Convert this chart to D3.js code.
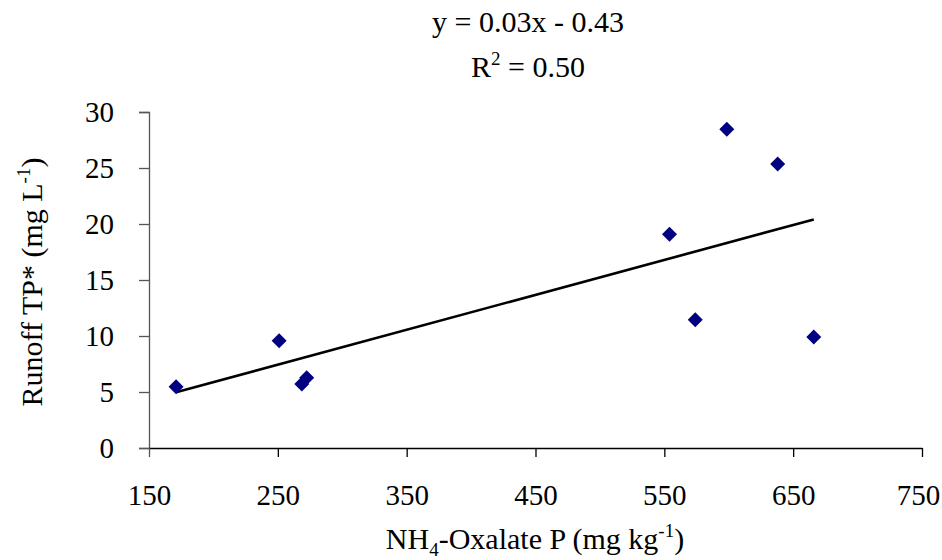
<!DOCTYPE html>
<html>
<head>
<meta charset="utf-8">
<script src="https://cdn.jsdelivr.net/npm/d3@7"></script>
</head>
<body style="margin:0">
<svg id="chart" width="942" height="560" font-family="Times New Roman"></svg>
<script>
// ---- data ----
const oxalateP = [171, 251, 268.6, 272.4, 554, 574, 598.5, 638, 666];
const runoffTP = [5.47, 9.58, 5.71, 6.28, 19.08, 11.46, 28.46, 25.36, 9.91];
const xTicks = [150, 250, 350, 450, 550, 650, 750];
const yTicks = [0, 5, 10, 15, 20, 25, 30];
const equationText = "y = 0.03x - 0.43";
const r2Text = "0.50";

const svg = d3.select("#chart");
const fsTick = 29;
const fsTitle = 30;
const fsSup = 19;

function serif(sel, size) {
  return sel.attr("font-family", "Times New Roman")
    .style("font-family", '"Times New Roman"')
    .attr("font-size", size).attr("fill", "#000");
}

const x = d3.scaleLinear().domain([150, 750]).range([149, 922]);
const y = d3.scaleLinear().domain([0, 30]).range([448, 112]);

// y axis
const yAxis = svg.append("g")
  .attr("transform", `translate(${x(150)},0)`)
  .call(d3.axisLeft(y).tickValues(yTicks).tickSize(10).tickPadding(25).tickFormat(d3.format("d")));
yAxis.attr("font-family", "Times New Roman").attr("font-size", null);
yAxis.select(".domain").attr("stroke", "#555").attr("stroke-width", 1.3);
yAxis.selectAll(".tick line").attr("stroke", "#555").attr("stroke-width", 1.3);
serif(yAxis.selectAll(".tick text"), fsTick).attr("dy", "0.33em");

// x axis
const xAxis = svg.append("g")
  .attr("transform", `translate(0,${y(0)})`)
  .call(d3.axisBottom(x).tickValues(xTicks).tickSize(9).tickPadding(0).tickSizeOuter(0).tickFormat(d3.format("d")));
xAxis.attr("font-family", "Times New Roman").attr("font-size", null);
xAxis.select(".domain").attr("stroke", "#000").attr("stroke-width", 1.3);
xAxis.selectAll(".tick line").attr("stroke", "#000").attr("stroke-width", 1.3);
serif(xAxis.selectAll(".tick text"), fsTick).attr("y", 505 - y(0)).attr("dy", 0);
xAxis.selectAll(".tick").filter(d => d === 750).select("text").attr("dx", -4);
xAxis.selectAll(".tick").filter(d => d === 150).select("line").attr("stroke", "#555");

// regression line computed from the points
const mx = d3.mean(oxalateP), my = d3.mean(runoffTP);
const sxy = d3.sum(oxalateP, (v, i) => (v - mx) * (runoffTP[i] - my));
const sxx = d3.sum(oxalateP, v => (v - mx) * (v - mx));
const slope = sxy / sxx, intercept = my - slope * mx;
const [x0, x1] = d3.extent(oxalateP);
svg.append("line")
  .attr("x1", x(x0)).attr("y1", y(slope * x0 + intercept))
  .attr("x2", x(x1)).attr("y2", y(slope * x1 + intercept))
  .attr("stroke", "#000").attr("stroke-width", 2.6);

// points
const diamond = d3.symbol().type(d3.symbolSquare).size(112);
svg.append("g").selectAll("path")
  .data(oxalateP.map((v, i) => [v, runoffTP[i]]))
  .join("path")
  .attr("d", diamond)
  .attr("transform", d => `translate(${x(d[0])},${y(d[1])}) rotate(45)`)
  .attr("fill", "#000080");

// equation
serif(svg.append("text"), fsTitle)
  .attr("x", 528).attr("y", 32).attr("text-anchor", "middle")
  .text(equationText);
const r2 = serif(svg.append("text"), fsTitle)
  .attr("x", 528).attr("y", 77).attr("text-anchor", "middle");
r2.append("tspan").text("R");
r2.append("tspan").attr("font-size", fsSup).attr("dy", -12).text("2");
r2.append("tspan").attr("dy", 12).text(" = " + r2Text);

// x title
const xt = serif(svg.append("text"), fsTitle)
  .attr("x", 535).attr("y", 549).attr("text-anchor", "middle");
xt.append("tspan").text("NH");
xt.append("tspan").attr("font-size", fsSup).attr("dy", 7).text("4");
xt.append("tspan").attr("dy", -7).text("-Oxalate P (mg kg");
xt.append("tspan").attr("font-size", fsSup).attr("dy", -12).text("-1");
xt.append("tspan").attr("dy", 12).text(")");

// y title
const yt = serif(svg.append("text"), fsTitle)
  .attr("transform", "translate(42,282) rotate(-90)")
  .attr("text-anchor", "middle");
yt.append("tspan").text("Runoff TP* (mg L");
yt.append("tspan").attr("font-size", fsSup).attr("dy", -12).text("-1");
yt.append("tspan").attr("dy", 12).text(")");
</script>
</body>
</html>
